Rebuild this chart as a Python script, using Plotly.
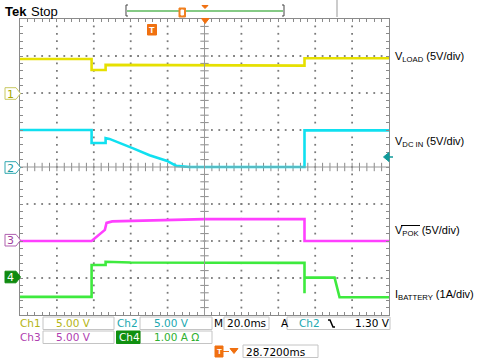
import plotly.graph_objects as go

# ---- data (time in ms, vertical position in divisions; 0 = bottom of screen) ----
ch1_t = [-100, -61.2, -61.2, -53.6, -53.6, 0, 54.2, 54.2, 100]
ch1_v = [6.92, 6.92, 6.62, 6.62, 6.76, 6.75, 6.74, 6.94, 6.94]

ch2_t = [-100, -61.2, -61.2, -53.6, -53.6, -51.5, -39, -29.8, -20.6, -15.2, -8.1, 54.2, 54.2, 100]
ch2_v = [5.0, 5.0, 4.65, 4.65, 4.78, 4.76, 4.51, 4.32, 4.17, 4.03, 4.0, 4.0, 4.99, 4.99]

ch3_t = [-100, -61.2, -54.0, -53.1, -50.0, -20.0, 0, 54.2, 54.2, 100]
ch3_v = [2.0, 2.0, 2.30, 2.49, 2.53, 2.57, 2.59, 2.59, 2.0, 2.0]

ch4_t = [-100, -61.2, -61.2, -53.6, -53.6, -40, 54.2, 54.2, 54.2, 70.5, 73.2, 100]
ch4_v = [0.49, 0.49, 1.35, 1.35, 1.44, 1.42, 1.41, 0.59, 1.01, 1.01, 0.48, 0.48]

labels = ["V<sub>LOAD</sub> (5V/div)", "V<sub>DC IN</sub> (5V/div)",
          "V<sub>POK</sub> (5V/div)", "I<sub>BATTERY</sub> (1A/div)"]

W, H = 480, 363
L, R, T, B = 20, 91, 19, 48
PW, PH = W - L - R, H - T - B


def px(x):
    return (x - L) / PW


def py(y):
    return (H - B - y) / PH


fig = go.Figure()

# ---- graticule dots ----
gx, gy = [], []
for xv in [-80, -60, -40, -20, 20, 40, 60, 80]:
    for k in range(1, 40):
        gx.append(xv)
        gy.append(k * 0.2)
for yv in [1, 2, 3, 5, 6, 7]:
    for k in range(1, 50):
        gx.append(-100 + k * 4)
        gy.append(yv)
fig.add_trace(go.Scatter(x=gx, y=gy, mode="markers",
                         marker=dict(symbol="square", size=1.8, color="#7a7a7a", line_width=0),
                         hoverinfo="skip", showlegend=False))

# center cross lines with ticks
fig.add_shape(type="line", x0=0, x1=0, y0=0, y1=8, xref="x", yref="y",
              line=dict(color="#999999", width=1))
fig.add_shape(type="line", x0=-100, x1=100, y0=4, y1=4, xref="x", yref="y",
              line=dict(color="#999999", width=1))
fig.add_trace(go.Scatter(x=[-100 + k * 4 for k in range(1, 50)], y=[4] * 49, mode="markers",
                         marker=dict(symbol="line-ns", size=6, line=dict(color="#8a8a8a", width=1)),
                         hoverinfo="skip", showlegend=False))
fig.add_trace(go.Scatter(x=[0] * 39, y=[k * 0.2 for k in range(1, 40)], mode="markers",
                         marker=dict(symbol="line-ew", size=6, line=dict(color="#8a8a8a", width=1)),
                         hoverinfo="skip", showlegend=False))

# ---- traces ----
for t, v, c in [(ch1_t, ch1_v, "#e6e000"), (ch2_t, ch2_v, "#10e0f0"),
                (ch3_t, ch3_v, "#ff40ff"), (ch4_t, ch4_v, "#3eea3e")]:
    fig.add_trace(go.Scatter(x=t, y=v, mode="lines", line=dict(color=c, width=2.6),
                             hoverinfo="skip", showlegend=False))

shapes = []
ann = []


def txt(x, y, s, color="black", size=10.5, family="DejaVu Sans", anchor="left"):
    ann.append(dict(x=px(x), y=py(y), xref="paper", yref="paper", text=s, showarrow=False,
                    xanchor=anchor, yanchor="middle", borderpad=0,
                    font=dict(color=color, size=size, family=family)))


def rect(x0, y0, x1, y1, line="#c4c4c4", fill="white", width=1):
    shapes.append(dict(type="rect", xref="paper", yref="paper", x0=px(x0), x1=px(x1),
                       y0=py(y0), y1=py(y1), line=dict(color=line, width=width), fillcolor=fill))


def path(pts, line, fill=None, width=1):
    d = "M " + " L ".join(f"{px(a):.5f},{py(b):.5f}" for a, b in pts)
    if fill:
        d += " Z"
    shapes.append(dict(type="path", xref="paper", yref="paper", path=d,
                       line=dict(color=line, width=width),
                       fillcolor=fill if fill else "rgba(0,0,0,0)"))


def hline(x0, x1, y, color, width=1):
    shapes.append(dict(type="line", xref="paper", yref="paper", x0=px(x0), x1=px(x1),
                       y0=py(y), y1=py(y), line=dict(color=color, width=width)))


def vline(x, y0, y1, color, width=1):
    shapes.append(dict(type="line", xref="paper", yref="paper", x0=px(x), x1=px(x),
                       y0=py(y0), y1=py(y1), line=dict(color=color, width=width)))


# outer frame
rect(1, 1, 478.5, 361.5, line="black", fill="rgba(0,0,0,0)", width=2)

# ---- top status bar ----
txt(4, 11, "<b>Tek</b>", size=13, family="Liberation Sans")
txt(30, 11, "Stop", size=13, family="Liberation Sans")
vline(73, 0, 17, "#bbbbbb", 1.5)
vline(337, 0, 17, "#bbbbbb", 1.5)
hline(127, 283, 11, "#5cb85c", 1.5)
path([(128, 5), (126, 5), (126, 16), (128, 16)], "#444444", width=1)
path([(282, 5), (284, 5), (284, 16), (282, 16)], "#444444", width=1)
rect(179, 8, 185.5, 17, line="#f08020", fill="#f08020")
rect(181, 10, 183.5, 15, line="white", fill="white")
path([(202, 5.5), (208, 5.5), (205, 8.5)], "#f07010", fill="#f07010")
# trigger position marker on top border
path([(201.5, 18.5), (209, 18.5), (205.2, 23.5)], "#f07010", fill="#f07010")
# orange T marker
rect(147.5, 24.5, 156.5, 35, line="#f07010", fill="#f07010")
txt(152, 30, "<b>T</b>", color="white", size=9, family="Liberation Sans", anchor="center")

# ---- channel ground markers ----
for cy, n, lc, fc, tc in [(93.5, "1", "#c8c860", "white", "#a8a800"),
                          (167.5, "2", "#30a8b0", "white", "#209aa0"),
                          (240.2, "3", "#b060b0", "white", "#a040a0"),
                          (277.0, "4", "#108a10", "#108a10", "white")]:
    path([(5, cy - 5.8), (16, cy - 5.8), (20.5, cy), (16, cy + 5.8), (5, cy + 5.8)], lc, fill=fc)
    txt(10.5, cy + 0.5, n, color=tc, size=11, anchor="center")

# ch2 trigger level arrow
path([(389, 152.5), (383.5, 157), (389, 161.5)], "#109a9a", fill="#109a9a")
hline(388, 393, 157, "#109a9a", 1.5)

# ---- right labels ----
for yy, s in zip([57.3, 141.7, 230.7, 295.0], labels):
    txt(394, yy, s, size=11, family="Liberation Sans")
hline(401, 420, 225.5, "black", 1)

# ---- bottom readouts ----
y1, y2, y3 = 323.3, 337.3, 351.5
rect(43, 317, 114, 329.5)
rect(140, 317, 212, 329.5)
rect(224, 317, 269, 329.5)
rect(287, 317, 390, 329.5)
rect(43, 331, 114, 343.5)
rect(140, 331, 212, 343.5)
rect(116.5, 331, 140, 343.5, line="#109010", fill="#109010")
rect(243, 345, 318, 357.5)

txt(19, y1, "Ch1", color="#b4b414")
txt(55, y1, "5.00 V", color="#b4b414")
txt(116.5, y1, "Ch2", color="#20a8b0")
txt(153, y1, "5.00 V", color="#20a8b0")
txt(212.5, y1, "M")
txt(226, y1, "20.0ms")
txt(279.5, y1, "A")
txt(298, y1, "Ch2", color="#20a8b0")
path([(328, 320), (330, 320), (333, 327), (335, 327)], "black", width=1.5)
txt(354, y1, "1.30 V")

txt(19, y2, "Ch3", color="#b040b0")
txt(55, y2, "5.00 V", color="#b040b0")
txt(117.5, y2, "Ch4", color="white")
txt(153, y2, "1.00 A Ω", color="#30b030")

rect(215, 346, 223, 357, line="#f07010", fill="#f07010")
txt(219, 351.8, "<b>T</b>", color="white", size=8, family="Liberation Sans", anchor="center")
hline(223, 229, 351.5, "#f07010", 1)
path([(230, 348.5), (238, 348.5), (234, 353.5)], "#f07010", fill="#f07010")
txt(245, y3, "28.7200ms")

fig.update_layout(
    width=W, height=H, margin=dict(l=L, r=R, t=T, b=B),
    plot_bgcolor="white", paper_bgcolor="white",
    shapes=shapes, annotations=ann, hovermode=False,
    xaxis=dict(range=[-100, 100], showgrid=False, zeroline=False, showticklabels=False,
               ticks="inside", ticklen=3, tickcolor="#8a8a8a", tick0=-100, dtick=4,
               showline=True, linecolor="#8a8a8a", linewidth=1, mirror="ticks"),
    yaxis=dict(range=[0, 8], showgrid=False, zeroline=False, showticklabels=False,
               ticks="inside", ticklen=3, tickcolor="#8a8a8a", tick0=0, dtick=0.2,
               showline=True, linecolor="#8a8a8a", linewidth=1, mirror="ticks"),
)

fig.write_html("out.html", config={"displayModeBar": False},
               post_script="document.body.style.margin='0px';document.body.style.overflow='hidden';")
